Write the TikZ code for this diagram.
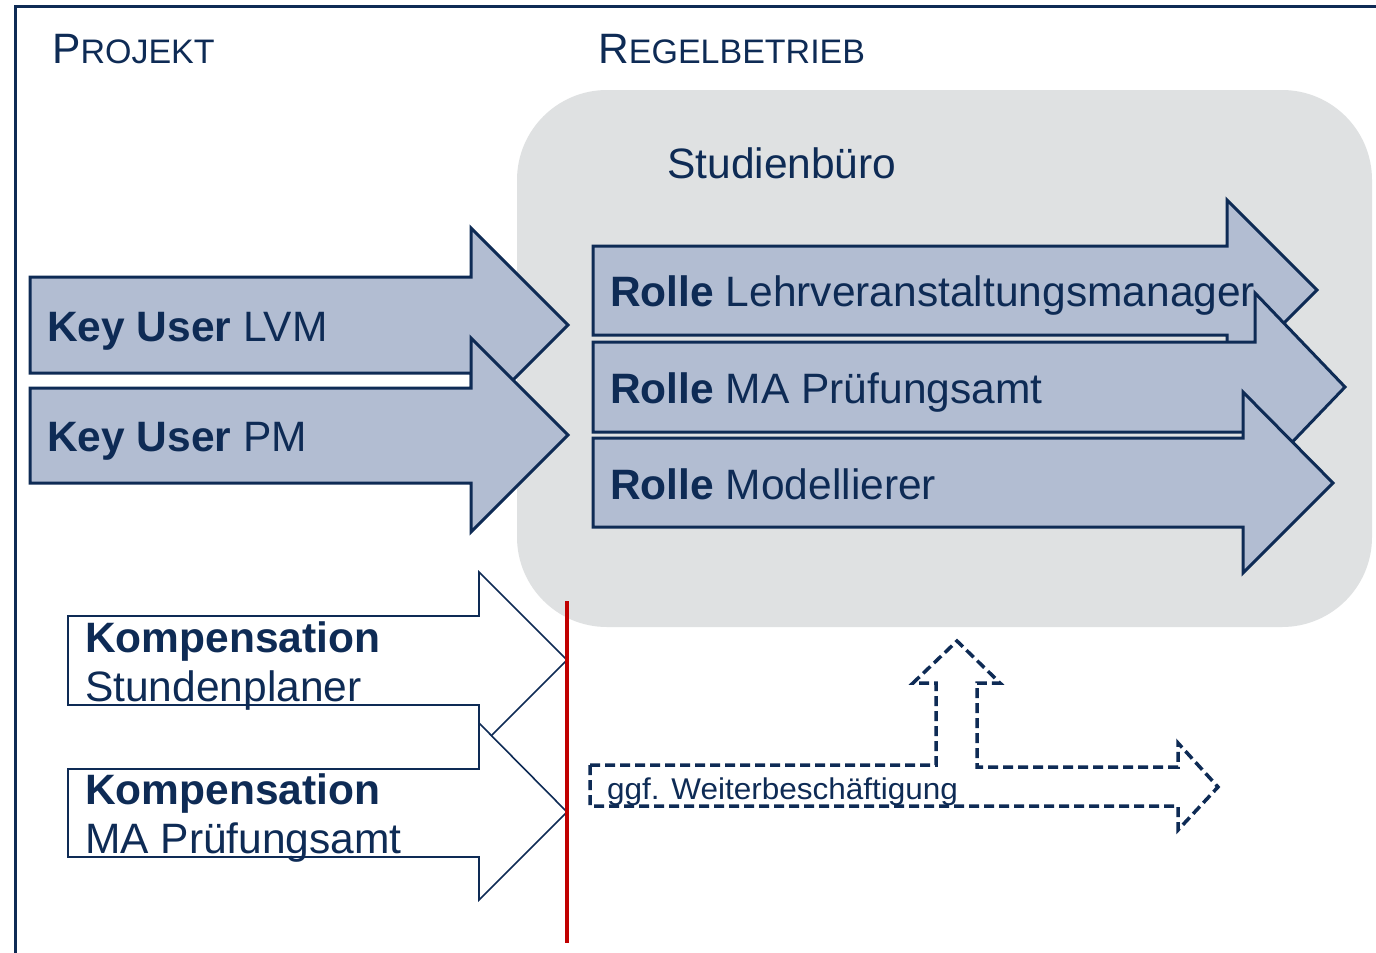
\documentclass[tikz,border=0pt]{standalone}
\usepackage{fontspec}
\setmainfont{Liberation Sans}
\definecolor{navy}{RGB}{14,43,85}
\definecolor{arrowfill}{RGB}{178,189,210}
\definecolor{boxgray}{RGB}{223,225,226}
\definecolor{redline}{RGB}{192,0,0}
\tikzset{
  bigarrow/.style={draw=navy,fill=arrowfill,line width=3pt,line join=miter},
  whitearrow/.style={draw=navy,fill=white,line width=1.6pt,line join=miter},
  dasharrow/.style={draw=navy,line width=3.5pt,dash pattern=on 10pt off 5pt,line join=miter},
  lbl/.style={anchor=base west,inner sep=0pt,text=navy,font=\fontsize{42.5}{48}\selectfont},
  smalllbl/.style={anchor=base west,inner sep=0pt,text=navy,font=\fontsize{30}{34}\selectfont},
}
\begin{document}
\begin{tikzpicture}[x=1pt,y=-1pt]
\clip (0,0) rectangle (1376,953);
\fill[white] (0,0) rectangle (1376,953);
% frame
\draw[navy,line width=3pt] (15,1000) -- (15,6) -- (1400,6);
% gray area
\fill[boxgray,rounded corners=90pt] (517,90) rectangle (1372,627);
% key user arrows
\draw[bigarrow] (30,277)--(471,277)--(471,228)--(568,325)--(471,422)--(471,373)--(30,373)--cycle;
\draw[bigarrow] (30,388)--(471,388)--(471,338)--(568,435)--(471,532)--(471,483)--(30,483)--cycle;
% role arrows
\draw[bigarrow] (593,246)--(1227,246)--(1227,200)--(1317,290)--(1227,380)--(1227,335)--(593,335)--cycle;
\draw[bigarrow] (593,342)--(1255,342)--(1255,293)--(1345,387)--(1255,481)--(1255,432)--(593,432)--cycle;
\draw[bigarrow] (593,438)--(1243,438)--(1243,392)--(1333,483)--(1243,573)--(1243,527)--(593,527)--cycle;
% compensation arrows
\draw[whitearrow] (68,616)--(479,616)--(479,572)--(567,660)--(479,748)--(479,705)--(68,705)--cycle;
\draw[whitearrow] (68,769)--(479,769)--(479,723)--(567,812)--(479,900)--(479,857)--(68,857)--cycle;
% red line
\coordinate (rtop) at (567,601);
\coordinate (rbot) at (567,943);
\draw[redline,line width=4pt] (rtop) -- (rbot);
% dashed arrow
\draw[dasharrow] (590,765)--(936,765)--(936,683)--(913,683)--(957,641)--(1000,683)--(977,683)--(977,767)--(1178,767)--(1178,743)--(1218,787)--(1178,830)--(1178,806)--(590,806)--cycle;
% labels
\node[lbl] (projekt) at (52,63) {P\fontsize{34}{40}\selectfont ROJEKT};
\node[lbl] (regel) at (598,63) {R\fontsize{34}{40}\selectfont EGELBETRIEB};
\node[lbl] (studien) at (667,178) {Studienbüro};
\node[lbl] (kulvm) at (47,341) {\textbf{Key User} LVM};
\node[lbl] (kupm) at (47,451) {\textbf{Key User} PM};
\node[lbl] (r1) at (610,306) {\textbf{Rolle} Lehrveranstaltungsmanager};
\node[lbl] (r2) at (610,403) {\textbf{Rolle} MA Prüfungsamt};
\node[lbl] (r3) at (610,499) {\textbf{Rolle} Modellierer};
\node[lbl] (k1a) at (85,652) {\textbf{Kompensation}};
\node[lbl] (k1b) at (85,701) {Stundenplaner};
\node[lbl] (k2a) at (85,804) {\textbf{Kompensation}};
\node[lbl] (k2b) at (85,853) {MA Prüfungsamt};
\node[smalllbl] (wb) at (607,799) {\addfontfeature{FakeStretch=1.05}ggf. Weiterbeschäftigung};
\end{tikzpicture}
\end{document}
